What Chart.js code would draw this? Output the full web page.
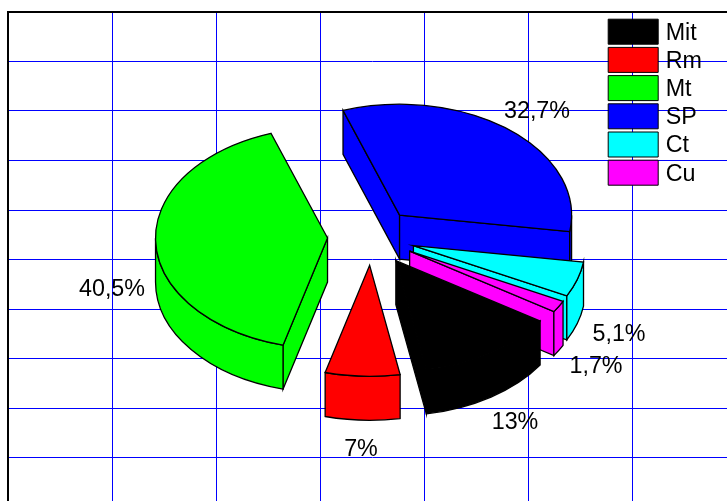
<!DOCTYPE html>
<html>
<head>
<meta charset="utf-8">
<style>
  html, body { margin: 0; padding: 0; width: 727px; height: 501px; overflow: hidden; background: #fff; }
  canvas { display: block; }
</style>
<script src="https://cdn.jsdelivr.net/npm/chart.js@4"></script>
</head>
<body>
<div style="width:736px;height:507px"><canvas id="pie" width="736" height="507"></canvas></div>
<script>
var categories = ['Mit', 'Rm', 'Mt', 'SP', 'Ct', 'Cu'];
var shares = [13, 7, 40.5, 32.7, 5.1, 1.7];
var colors = ['#000000', '#ff0000', '#00ff00', '#0000ff', '#00ffff', '#ff00ff'];

// where the percentage texts sit, same order as categories (centre of text)
var labelSpots = [[515, 423], [361, 450], [112, 290], [537, 112], [619, 335], [596, 367]];

var squash = 0.645;
var depth = 44;
var lift = -22.5;
var shiftX = -0.5;
var FONT = '"Liberation Sans", Arial, sans-serif';
var TEXT_SIZE = 23.3;
var BOX_W = 50, BOX_H = 25, BOX_GAP = 3.2;

function wedgePaths(ctx, arc, color) {
  var a = arc.outerRadius;
  var b = a * squash;
  var s = arc.startAngle;
  var e = arc.endAngle;
  var mid = (s + e) / 2;
  var cx = arc.x + shiftX + arc.options.offset * Math.cos(mid);
  var cy = arc.y + lift + arc.options.offset * squash * Math.sin(mid);

  ctx.fillStyle = color;
  ctx.strokeStyle = '#000';
  ctx.lineWidth = 1.3;

  function paint() {
    ctx.closePath();
    ctx.fill();
    ctx.stroke();
  }
  function radialWall(t) {
    var rx = cx + a * Math.cos(t);
    var ry = cy + b * Math.sin(t);
    ctx.beginPath();
    ctx.moveTo(cx, cy);
    ctx.lineTo(rx, ry);
    ctx.lineTo(rx, ry + depth);
    ctx.lineTo(cx, cy + depth);
    paint();
  }

  // only the walls that face the viewer
  if (Math.cos(s) < 0) radialWall(s);
  if (Math.cos(e) > 0) radialWall(e);

  // outer rim, the part of it on the front half of the ellipse
  for (var k = 0; k < 2; k++) {
    var from = Math.max(s, k * 2 * Math.PI);
    var to = Math.min(e, k * 2 * Math.PI + Math.PI);
    if (to <= from) continue;
    ctx.beginPath();
    ctx.ellipse(cx, cy, a, b, 0, from, to);
    ctx.ellipse(cx, cy + depth, a, b, 0, to, from, true);
    paint();
  }

  // top face
  ctx.beginPath();
  ctx.moveTo(cx, cy);
  ctx.ellipse(cx, cy, a, b, 0, s, e);
  paint();
}

var tiltedPie = {
  id: 'tiltedPie',
  afterLayout: function (chart) {
    // legend sits in the top right corner of the plot
    var lg = chart.legend;
    lg.left = 605;
    lg.right = 736;
    lg.top = 16;
    lg.bottom = 200;
  },
  beforeDatasetDraw: function (chart, args) {
    var ctx = chart.ctx;
    var arcs = args.meta.data.map(function (arc, i) { return { arc: arc, i: i }; });
    // back to front
    arcs.sort(function (p, q) {
      return Math.sin((p.arc.startAngle + p.arc.endAngle) / 2) - Math.sin((q.arc.startAngle + q.arc.endAngle) / 2);
    });
    ctx.save();
    arcs.forEach(function (p) { wedgePaths(ctx, p.arc, colors[p.i]); });
    ctx.restore();
    return false;
  },
  afterDatasetsDraw: function (chart) {
    var ctx = chart.ctx;
    var lg = chart.legend;
    ctx.save();
    ctx.fillStyle = '#000';
    ctx.font = TEXT_SIZE + 'px ' + FONT;
    ctx.textBaseline = 'middle';
    ctx.textAlign = 'center';
    shares.forEach(function (v, i) {
      ctx.fillText(String(v).replace('.', ',') + '%', labelSpots[i][0], labelSpots[i][1]);
    });
    // legend names: the built-in text starts too far from the swatch
    ctx.textAlign = 'left';
    categories.forEach(function (name, i) {
      ctx.fillText(name, lg.left + BOX_GAP + BOX_W + 7.5, lg.top + BOX_GAP + i * (BOX_H + BOX_GAP) + BOX_H / 2 + 1.5);
    });
    ctx.restore();
  }
};

new Chart(document.getElementById('pie'), {
  type: 'pie',
  data: {
    labels: categories,
    datasets: [{
      data: shares,
      backgroundColor: colors,
      borderColor: '#000',
      borderWidth: 1,
      offset: 44
    }]
  },
  options: {
    responsive: false,
    animation: false,
    rotation: 123,
    radius: 172,
    layout: { padding: { left: 8, top: 12, right: 0, bottom: 0 } },
    scales: {
      x: {
        type: 'linear', position: 'top', min: 0, max: 7,
        ticks: { display: false, stepSize: 1 },
        grid: { color: '#0000ff', lineWidth: 1, tickLength: 0 },
        border: { color: '#000', width: 2 }
      },
      y: {
        type: 'linear', position: 'left', min: 0, max: 10,
        ticks: { display: false, stepSize: 1 },
        grid: { color: '#0000ff', lineWidth: 1, tickLength: 0 },
        border: { color: '#000', width: 2 }
      }
    },
    plugins: {
      legend: {
        position: 'chartArea',
        align: 'start',
        labels: {
          boxWidth: BOX_W,
          boxHeight: BOX_H,
          padding: BOX_GAP,
          color: 'rgba(0,0,0,0)',
          font: { family: FONT, size: TEXT_SIZE }
        }
      },
      tooltip: { enabled: false }
    }
  },
  plugins: [tiltedPie]
});
</script>
</body>
</html>
